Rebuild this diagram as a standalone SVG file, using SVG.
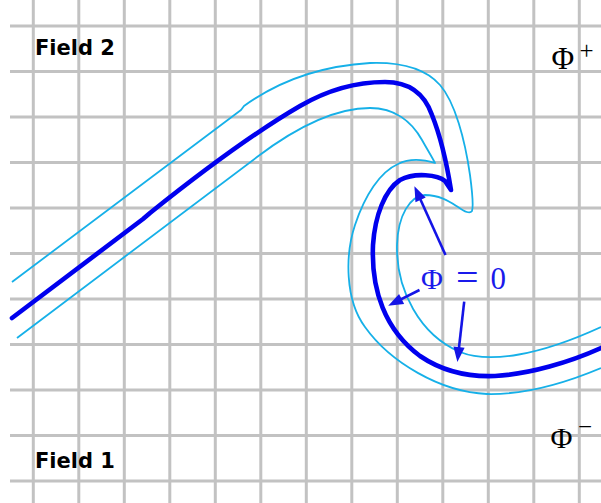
<svg xmlns="http://www.w3.org/2000/svg" width="601" height="503" viewBox="0 0 601 503">
<style>
.grid line{stroke:#c2c2c2;stroke-width:3}
.main{fill:none;stroke:#0000ee;stroke-width:4.6;stroke-linejoin:round;stroke-linecap:round}
.band{fill:none;stroke:#16b0e8;stroke-width:1.8;stroke-linejoin:round}
.arrow{fill:none;stroke:#1414e6;stroke-width:2.6}
.lbl{font-family:"DejaVu Sans",sans-serif;font-weight:bold;font-size:21px;fill:#000}
.phi{font-family:"Liberation Serif",serif;fill:#000}
.phib{font-family:"Liberation Serif",serif;fill:#1a1aeb}
</style>
<defs>
<marker id="ah" markerUnits="userSpaceOnUse" markerWidth="20" markerHeight="20" viewBox="-8 -6 16 12" refX="0" refY="0" orient="auto">
<path d="M6,0 L-6,-4.5 L-6,4.5 Z" fill="#1414e6"/>
</marker>
</defs>
<rect width="601" height="503" fill="#fff"/>
<g class="grid" id="grid">
<line x1="33.3" y1="0" x2="33.3" y2="503"/>
<line x1="78.8" y1="0" x2="78.8" y2="503"/>
<line x1="124.3" y1="0" x2="124.3" y2="503"/>
<line x1="169.8" y1="0" x2="169.8" y2="503"/>
<line x1="215.3" y1="0" x2="215.3" y2="503"/>
<line x1="260.8" y1="0" x2="260.8" y2="503"/>
<line x1="306.3" y1="0" x2="306.3" y2="503"/>
<line x1="351.8" y1="0" x2="351.8" y2="503"/>
<line x1="397.3" y1="0" x2="397.3" y2="503"/>
<line x1="442.8" y1="0" x2="442.8" y2="503"/>
<line x1="488.3" y1="0" x2="488.3" y2="503"/>
<line x1="533.8" y1="0" x2="533.8" y2="503"/>
<line x1="579.3" y1="0" x2="579.3" y2="503"/>
<line x1="10" y1="26" x2="601" y2="26"/>
<line x1="10" y1="71.5" x2="601" y2="71.5"/>
<line x1="10" y1="117" x2="601" y2="117"/>
<line x1="10" y1="162.5" x2="601" y2="162.5"/>
<line x1="10" y1="208" x2="601" y2="208"/>
<line x1="10" y1="253.5" x2="601" y2="253.5"/>
<line x1="10" y1="299" x2="601" y2="299"/>
<line x1="10" y1="344.5" x2="601" y2="344.5"/>
<line x1="10" y1="390" x2="601" y2="390"/>
<line x1="10" y1="435.5" x2="601" y2="435.5"/>
<line x1="10" y1="481" x2="601" y2="481"/>
</g>
<g id="band-plus">
<path class="band" d="M12,282 L241,110 L244,106 C280,80 320,66 370,63 C400,62 425,68 440,85 C455,102 465,140 470,175 C472,190 474,205 472,211 C470,214 465,212 458,207 C450,202 440,195 425,195 C410,196 398,215 397,245 C396,290 420,335 460,352 C490,364 540,355 601,327"/>
</g>
<g id="band-minus">
<path class="band" d="M17,338 L257,157 C290,132 330,108 370,108 C395,108 412,122 422,140 C427,149 432,157 435,163 C425,160 410,158 398,164 C380,172 365,195 355,225 C345,255 345,300 365,327 C390,362 440,392 487,394 C530,395 570,381 601,368"/>
</g>
<g id="interface">
<path class="main" d="M12,318 L143,219 L150,213 C195,177 250,135 300,106 C330,88.6 360,82 385,82 C410,82 425,95 432,115 C440,135 447,165 451,190 L445,181 C438,175 415,172 400,180 C385,190 375,215 373,245 C371,290 385,330 420,356 C445,373 470,377 495,376 C530,374 570,362 601,348"/>
</g>
<g id="connectors">
<line class="arrow" x1="445.5" y1="255" x2="417.5" y2="193" marker-end="url(#ah)"/>
<line class="arrow" x1="419.5" y1="290" x2="394.9" y2="302.3" marker-end="url(#ah)"/>
<line class="arrow" x1="464.2" y1="301.7" x2="458.2" y2="354.5" marker-end="url(#ah)"/>
</g>
<g id="field2"><text class="lbl" x="35" y="55">Field 2</text></g>
<g id="field1"><text class="lbl" x="35" y="468">Field 1</text></g>
<g id="phi-plus">
<text class="phi" x="551.5" y="69" font-size="31">Φ</text>
<text class="phi" x="579.5" y="59" font-size="25">+</text>
</g>
<g id="phi-minus">
<text class="phi" x="550.5" y="448" font-size="30">Φ</text>
<text class="phi" x="578" y="435" font-size="25">−</text>
</g>
<g id="phi-zero">
<text class="phib" x="421" y="288.5" font-size="30">Φ</text>
<text class="phib" x="456" y="291" font-size="40">=</text>
<text class="phib" x="490.5" y="288.5" font-size="31">0</text>
</g>
</svg>
